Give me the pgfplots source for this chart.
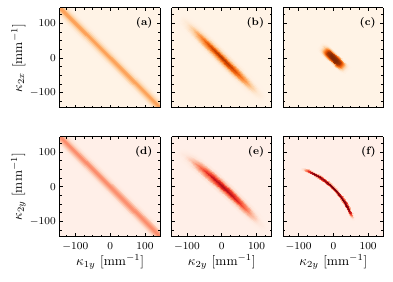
\documentclass[border=0pt]{standalone}
\usepackage{pgfplots}
\pgfplotsset{compat=1.18}
\definecolor{bgO}{RGB}{255,243,230}
\definecolor{bgR}{RGB}{255,239,232}
\tikzset{plab/.style={anchor=north east, inner sep=0pt, font=\fontsize{8}{9}\selectfont\bfseries}}
\pgfplotsset{
  colormap={Oranges}{rgb255=(255,245,235) rgb255=(254,230,206) rgb255=(253,208,162) rgb255=(253,174,107) rgb255=(253,141,60) rgb255=(241,105,19) rgb255=(217,72,1) rgb255=(166,54,3) rgb255=(127,39,4)},
  colormap={Reds}{rgb255=(255,245,240) rgb255=(254,224,210) rgb255=(252,187,161) rgb255=(252,146,114) rgb255=(251,106,74) rgb255=(239,59,44) rgb255=(203,24,29) rgb255=(165,15,21) rgb255=(103,0,13)},
  panel/.style={
    view={0}{90}, scale only axis, width=75.2pt, height=75pt, anchor=south west,
    xmin=-144, xmax=144, ymin=-144, ymax=144,
    xtick={-100,0,100}, ytick={-100,0,100}, ztick=\empty,
    minor xtick={-125,-75,-50,-25,25,50,75,125},
    minor ytick={-125,-75,-50,-25,25,50,75,125},
    tick align=inside,
    major tick length=2.6pt, minor tick length=1.5pt,
    every tick/.style={black, line width=0.55pt},
    axis line style={black, line width=0.75pt},
    tick label style={font=\fontsize{8}{9}\selectfont},
    xticklabel style={inner sep=0pt, yshift=-4.5pt, anchor=north},
    yticklabel style={inner sep=0pt, xshift=-3pt, anchor=east},
    label style={font=\fontsize{10}{12}\selectfont},
    every axis x label/.style={at={(axis description cs:0.5,-0.285)}, anchor=base, inner sep=0pt},
    every axis y label/.style={at={(axis description cs:-0.415,0.5)}, rotate=90, anchor=center, inner sep=0pt},
    clip=true,
  },
  toprow/.style={panel, colormap name=Oranges, point meta min=-0.02, point meta max=1,
    axis background/.style={fill=bgO}},
  botrow/.style={panel, colormap name=Reds, point meta min=-0.035, point meta max=1,
    axis background/.style={fill=bgR}},
}
\begin{document}
\begin{tikzpicture}
\path[use as bounding box] (0,0) rectangle (294.75pt,211.5pt);

% (a)
\begin{axis}[toprow, at={(45pt,130.5pt)}, xticklabel=\empty,
  ylabel={$\kappa_{2x}$ [mm$^{-1}$]}]
\addplot3[surf, shader=interp, mesh/cols=2] table {
x y z
-144 106.5 0
106.5 -144 0
-144 114 0.014
114 -144 0.014
-144 119 0.039
119 -144 0.039
-144 124 0.092
124 -144 0.092
-144 129 0.179
129 -144 0.179
-144 134 0.288
134 -144 0.288
-144 139 0.382
139 -144 0.382
-144 144 0.42
144 -144 0.42
-139 144 0.382
144 -139 0.382
-134 144 0.288
144 -134 0.288
-129 144 0.179
144 -129 0.179
-124 144 0.092
144 -124 0.092
-119 144 0.039
144 -119 0.039
-114 144 0.014
144 -114 0.014
-106.5 144 0
144 -106.5 0
};
\node[plab] at (axis description cs:0.925,0.905) {(a)};
\end{axis}

% (b)
\begin{axis}[toprow, at={(128.7pt,130.5pt)}, xticklabel=\empty, yticklabel=\empty]
\addplot3[surf, shader=interp, mesh/cols=11] table {
x y z
-138.5 101.5 0
-134 106 0
-130.5 109.5 0
-127 113 0
-123.5 116.5 0
-120 120 0
-116.5 123.5 0
-113 127 0
-109.5 130.5 0
-106 134 0
-101.5 138.5 0
-118.5 81.5 0
-114 86 0.003
-110.5 89.5 0.013
-107 93 0.038
-103.5 96.5 0.071
-100 100 0.088
-96.5 103.5 0.071
-93 107 0.038
-89.5 110.5 0.013
-86 114 0.003
-81.5 118.5 0
-98.5 61.5 0
-94 66 0.010
-90.5 69.5 0.043
-87 73 0.124
-83.5 76.5 0.234
-80 80 0.290
-76.5 83.5 0.234
-73 87 0.124
-69.5 90.5 0.043
-66 94 0.010
-61.5 98.5 0
-78.5 41.5 0
-74 46 0.017
-70.5 49.5 0.077
-67 53 0.225
-63.5 56.5 0.426
-60 60 0.527
-56.5 63.5 0.426
-53 67 0.225
-49.5 70.5 0.077
-46 74 0.017
-41.5 78.5 0
-58.5 21.5 0
-54 26 0.024
-50.5 29.5 0.106
-47 33 0.307
-43.5 36.5 0.582
-40 40 0.720
-36.5 43.5 0.582
-33 47 0.307
-29.5 50.5 0.106
-26 54 0.024
-21.5 58.5 0
-38.5 1.5 0
-34 6 0.028
-30.5 9.5 0.123
-27 13 0.357
-23.5 16.5 0.675
-20 20 0.835
-16.5 23.5 0.675
-13 27 0.357
-9.5 30.5 0.123
-6 34 0.028
-1.5 38.5 0
-18.5 -18.5 0
-14 -14 0.029
-10.5 -10.5 0.129
-7 -7 0.376
-3.5 -3.5 0.711
0 0 0.88
3.5 3.5 0.711
7 7 0.376
10.5 10.5 0.129
14 14 0.029
18.5 18.5 0
1.5 -38.5 0
6 -34 0.028
9.5 -30.5 0.123
13 -27 0.357
16.5 -23.5 0.675
20 -20 0.835
23.5 -16.5 0.675
27 -13 0.357
30.5 -9.5 0.123
34 -6 0.028
38.5 -1.5 0
21.5 -58.5 0
26 -54 0.024
29.5 -50.5 0.106
33 -47 0.307
36.5 -43.5 0.582
40 -40 0.720
43.5 -36.5 0.582
47 -33 0.307
50.5 -29.5 0.106
54 -26 0.024
58.5 -21.5 0
41.5 -78.5 0
46 -74 0.017
49.5 -70.5 0.077
53 -67 0.225
56.5 -63.5 0.426
60 -60 0.527
63.5 -56.5 0.426
67 -53 0.225
70.5 -49.5 0.077
74 -46 0.017
78.5 -41.5 0
61.5 -98.5 0
66 -94 0.010
69.5 -90.5 0.043
73 -87 0.124
76.5 -83.5 0.234
80 -80 0.290
83.5 -76.5 0.234
87 -73 0.124
90.5 -69.5 0.043
94 -66 0.010
98.5 -61.5 0
81.5 -118.5 0
86 -114 0.003
89.5 -110.5 0.013
93 -107 0.038
96.5 -103.5 0.071
100 -100 0.088
103.5 -96.5 0.071
107 -93 0.038
110.5 -89.5 0.013
114 -86 0.003
118.5 -81.5 0
101.5 -138.5 0
106 -134 0
109.5 -130.5 0
113 -127 0
116.5 -123.5 0
120 -120 0
123.5 -116.5 0
127 -113 0
130.5 -109.5 0
134 -106 0
138.5 -101.5 0
};
\node[plab] at (axis description cs:0.925,0.905) {(b)};
\end{axis}

% (c)
\begin{axis}[toprow, at={(212.4pt,130.5pt)}, xticklabel=\empty, yticklabel=\empty]
\addplot3[surf, shader=interp, mesh/cols=11] table {
x y z
-52.5 27.5 0
-50 30 0
-47.5 32.5 0
-45 35 0
-42.5 37.5 0
-40 40 0
-37.5 42.5 0
-35 45 0
-32.5 47.5 0
-30 50 0
-27.5 52.5 0
-46.5 21.5 0
-44 24 0.009
-41.5 26.5 0.028
-39 29 0.044
-36.5 31.5 0.049
-34 34 0.05
-31.5 36.5 0.049
-29 39 0.044
-26.5 41.5 0.028
-24 44 0.009
-21.5 46.5 0
-40.5 15.5 0
-38 18 0.045
-35.5 20.5 0.138
-33 23 0.22
-30.5 25.5 0.245
-28 28 0.25
-25.5 30.5 0.245
-23 33 0.22
-20.5 35.5 0.138
-18 38 0.045
-15.5 40.5 0
-34.5 9.5 0
-32 12 0.108
-29.5 14.5 0.33
-27 17 0.528
-24.5 19.5 0.588
-22 22 0.6
-19.5 24.5 0.588
-17 27 0.528
-14.5 29.5 0.33
-12 32 0.108
-9.5 34.5 0
-28.5 3.5 0
-26 6 0.162
-23.5 8.5 0.495
-21 11 0.792
-18.5 13.5 0.882
-16 16 0.9
-13.5 18.5 0.882
-11 21 0.792
-8.5 23.5 0.495
-6 26 0.162
-3.5 28.5 0
-20.5 -4.5 0
-18 -2 0.18
-15.5 0.5 0.55
-13 3 0.88
-10.5 5.5 0.98
-8 8 1
-5.5 10.5 0.98
-3 13 0.88
-0.5 15.5 0.55
2 18 0.18
4.5 20.5 0
-12.5 -12.5 0
-10 -10 0.18
-7.5 -7.5 0.55
-5 -5 0.88
-2.5 -2.5 0.98
0 0 1
2.5 2.5 0.98
5 5 0.88
7.5 7.5 0.55
10 10 0.18
12.5 12.5 0
-4.5 -20.5 0
-2 -18 0.18
0.5 -15.5 0.55
3 -13 0.88
5.5 -10.5 0.98
8 -8 1
10.5 -5.5 0.98
13 -3 0.88
15.5 -0.5 0.55
18 2 0.18
20.5 4.5 0
3.5 -28.5 0
6 -26 0.162
8.5 -23.5 0.495
11 -21 0.792
13.5 -18.5 0.882
16 -16 0.9
18.5 -13.5 0.882
21 -11 0.792
23.5 -8.5 0.495
26 -6 0.162
28.5 -3.5 0
9.5 -34.5 0
12 -32 0.108
14.5 -29.5 0.33
17 -27 0.528
19.5 -24.5 0.588
22 -22 0.6
24.5 -19.5 0.588
27 -17 0.528
29.5 -14.5 0.33
32 -12 0.108
34.5 -9.5 0
15.5 -40.5 0
18 -38 0.045
20.5 -35.5 0.138
23 -33 0.22
25.5 -30.5 0.245
28 -28 0.25
30.5 -25.5 0.245
33 -23 0.22
35.5 -20.5 0.138
38 -18 0.045
40.5 -15.5 0
21.5 -46.5 0
24 -44 0.009
26.5 -41.5 0.028
29 -39 0.044
31.5 -36.5 0.049
34 -34 0.05
36.5 -31.5 0.049
39 -29 0.044
41.5 -26.5 0.028
44 -24 0.009
46.5 -21.5 0
27.5 -52.5 0
30 -50 0
32.5 -47.5 0
35 -45 0
37.5 -42.5 0
40 -40 0
42.5 -37.5 0
45 -35 0
47.5 -32.5 0
50 -30 0
52.5 -27.5 0
};
\node[plab] at (axis description cs:0.925,0.905) {(c)};
\end{axis}

% (d)
\begin{axis}[botrow, at={(45pt,34pt)},
  xlabel={$\kappa_{1y}$ [mm$^{-1}$]}, ylabel={$\kappa_{2y}$ [mm$^{-1}$]}]
\addplot3[surf, shader=interp, mesh/cols=2] table {
x y z
-144 106.5 0
106.5 -144 0
-144 114 0.013
114 -144 0.013
-144 119 0.036
119 -144 0.036
-144 124 0.084
124 -144 0.084
-144 129 0.162
129 -144 0.162
-144 134 0.260
134 -144 0.260
-144 139 0.346
139 -144 0.346
-144 144 0.38
144 -144 0.38
-139 144 0.346
144 -139 0.346
-134 144 0.260
144 -134 0.260
-129 144 0.162
144 -129 0.162
-124 144 0.084
144 -124 0.084
-119 144 0.036
144 -119 0.036
-114 144 0.013
144 -114 0.013
-106.5 144 0
144 -106.5 0
};
\node[plab] at (axis description cs:0.925,0.905) {(d)};
\end{axis}

% (e)
\begin{axis}[botrow, at={(128.7pt,34pt)}, yticklabel=\empty,
  xlabel={$\kappa_{2y}$ [mm$^{-1}$]}]
\addplot3[surf, shader=interp, mesh/cols=9] table {
x y z
-141.32 87.41 0
-135.88 93.27 0
-132.48 96.94 0
-129.08 100.60 0
-125 105 0
-120.92 109.40 0
-117.52 113.06 0
-114.12 116.73 0
-108.68 122.59 0
-121.32 72.89 0
-115.88 78.75 0.005
-112.48 82.42 0.017
-109.08 86.08 0.037
-105 90.48 0.051
-100.92 94.88 0.037
-97.52 98.54 0.017
-94.12 102.21 0.005
-88.68 108.07 0
-101.32 57.70 0
-95.88 63.56 0.022
-92.48 67.23 0.072
-89.08 70.89 0.154
-85 75.29 0.213
-80.92 79.69 0.154
-77.52 83.35 0.072
-74.12 87.02 0.022
-68.68 92.88 0
-81.32 41.82 0
-75.88 47.68 0.046
-72.48 51.35 0.151
-69.08 55.01 0.321
-65 59.41 0.442
-60.92 63.81 0.321
-57.52 67.47 0.151
-54.12 71.14 0.046
-48.68 77.00 0
-61.32 25.24 0
-55.88 31.10 0.067
-52.48 34.77 0.223
-49.08 38.43 0.475
-45 42.83 0.655
-40.92 47.23 0.475
-37.52 50.89 0.223
-34.12 54.56 0.067
-28.68 60.42 0
-41.32 7.97 0
-35.88 13.83 0.081
-32.48 17.50 0.270
-29.08 21.16 0.574
-25 25.56 0.791
-20.92 29.96 0.574
-17.52 33.62 0.270
-14.12 37.29 0.081
-8.68 43.15 0
-16.32 -14.59 0
-10.88 -8.73 0.088
-7.48 -5.06 0.290
-4.08 -1.40 0.617
0 3 0.85
4.08 7.40 0.617
7.48 11.06 0.290
10.88 14.73 0.088
16.32 20.59 0
8.68 -38.23 0
14.12 -32.37 0.083
17.52 -28.70 0.275
20.92 -25.04 0.586
25 -20.64 0.808
29.08 -16.24 0.586
32.48 -12.58 0.275
35.88 -8.91 0.083
41.32 -3.05 0
28.68 -57.92 0
34.12 -52.06 0.072
37.52 -48.39 0.238
40.92 -44.73 0.506
45 -40.33 0.697
49.08 -35.93 0.506
52.48 -32.27 0.238
55.88 -28.60 0.072
61.32 -22.74 0
48.68 -78.30 0
54.12 -72.44 0.053
57.52 -68.77 0.174
60.92 -65.11 0.370
65 -60.71 0.51
69.08 -56.31 0.370
72.48 -52.65 0.174
75.88 -48.98 0.053
81.32 -43.12 0
68.68 -99.38 0
74.12 -93.52 0.026
77.52 -89.85 0.087
80.92 -86.19 0.185
85 -81.79 0.255
89.08 -77.39 0.185
92.48 -73.73 0.087
95.88 -70.06 0.026
101.32 -64.20 0
88.68 -121.15 0
94.12 -115.29 0.006
97.52 -111.62 0.020
100.92 -107.96 0.043
105 -103.56 0.060
109.08 -99.16 0.043
112.48 -95.50 0.020
115.88 -91.83 0.006
121.32 -85.97 0
108.68 -143.61 0
114.12 -137.75 0
117.52 -134.08 0
120.92 -130.42 0
125 -126.02 0
129.08 -121.62 0
132.48 -117.96 0
135.88 -114.29 0
141.32 -108.43 0
};
\node[plab] at (axis description cs:0.925,0.905) {(e)};
\end{axis}

% (f)
\begin{axis}[botrow, at={(212.4pt,34pt)}, yticklabel=\empty,
  xlabel={$\kappa_{2y}$ [mm$^{-1}$]}]
\addplot3[surf, shader=interp, mesh/cols=7] table {
x y z
-97.24 46.82 0
-96.51 49.21 0
-95.92 51.12 0
-95.19 53.51 0
-94.46 55.90 0
-93.87 57.81 0
-93.14 60.20 0
-89.88 44.43 0
-89.07 46.80 0.03
-88.41 48.69 0.082
-87.60 51.05 0.1
-86.79 53.41 0.082
-86.14 55.31 0.03
-85.32 57.67 0
-82.62 41.80 0
-81.72 44.13 0.105
-81.01 46.00 0.287
-80.11 48.33 0.35
-79.21 50.66 0.287
-78.50 52.53 0.105
-77.60 54.87 0
-75.47 38.89 0
-74.49 41.19 0.195
-73.71 43.03 0.533
-72.73 45.33 0.65
-71.75 47.63 0.533
-70.97 49.47 0.195
-70.00 51.77 0
-68.40 35.75 0
-67.34 38.01 0.264
-66.50 39.82 0.722
-65.44 42.09 0.88
-64.38 44.36 0.722
-63.54 46.17 0.264
-62.48 48.43 0
-58.01 30.56 0
-56.83 32.77 0.3
-55.89 34.53 0.82
-54.72 36.74 1
-53.55 38.95 0.82
-52.61 40.71 0.3
-51.43 42.92 0
-41.37 20.77 0
-40.01 22.87 0.3
-38.92 24.54 0.82
-37.56 26.64 1
-36.20 28.74 0.82
-35.11 30.41 0.3
-33.75 32.51 0
-25.62 9.54 0
-24.08 11.51 0.3
-22.85 13.09 0.82
-21.31 15.06 1
-19.77 17.03 0.82
-18.54 18.61 0.3
-17.00 20.58 0
-10.93 -3.00 0
-9.23 -1.17 0.3
-7.87 0.29 0.82
-6.16 2.12 1
-4.46 3.95 0.82
-3.09 5.41 0.3
-1.39 7.24 0
2.60 -16.79 0
4.46 -15.12 0.3
5.94 -13.78 0.82
7.80 -12.11 1
9.66 -10.44 0.82
11.14 -9.10 0.3
13.00 -7.43 0
14.89 -31.70 0
16.89 -30.20 0.3
18.48 -29.00 0.82
20.48 -27.49 1
22.48 -25.99 0.82
24.07 -24.78 0.3
26.07 -23.28 0
25.83 -47.63 0
27.95 -46.31 0.3
29.65 -45.25 0.82
31.77 -43.92 1
33.89 -42.60 0.82
35.59 -41.54 0.3
37.71 -40.21 0
33.56 -61.01 0
35.77 -59.83 0.3
37.53 -58.89 0.82
39.74 -57.72 1
41.95 -56.55 0.82
43.71 -55.61 0.3
45.92 -54.43 0
38.75 -71.40 0
41.01 -70.34 0.285
42.82 -69.50 0.779
45.09 -68.44 0.95
47.36 -67.38 0.779
49.17 -66.54 0.285
51.43 -65.48 0
41.89 -78.47 0
44.19 -77.49 0.24
46.03 -76.71 0.656
48.33 -75.73 0.8
50.63 -74.75 0.656
52.47 -73.97 0.24
54.77 -73.00 0
44.09 -83.82 0
46.41 -82.90 0.15
48.27 -82.17 0.41
50.60 -81.25 0.5
52.93 -80.33 0.41
54.79 -79.60 0.15
57.11 -78.68 0
46.14 -89.24 0
48.49 -88.39 0.06
50.37 -87.71 0.164
52.72 -86.85 0.2
55.07 -85.99 0.164
56.95 -85.31 0.06
59.30 -84.46 0
48.05 -94.72 0
50.42 -93.93 0.009
52.32 -93.29 0.025
54.69 -92.50 0.03
57.06 -91.71 0.025
58.96 -91.07 0.009
61.33 -90.28 0
49.82 -100.24 0
52.21 -99.51 0
54.12 -98.92 0
56.51 -98.19 0
58.90 -97.46 0
60.81 -96.87 0
63.20 -96.14 0
};
\node[plab] at (axis description cs:0.925,0.905) {(f)};
\end{axis}
\end{tikzpicture}
\end{document}
